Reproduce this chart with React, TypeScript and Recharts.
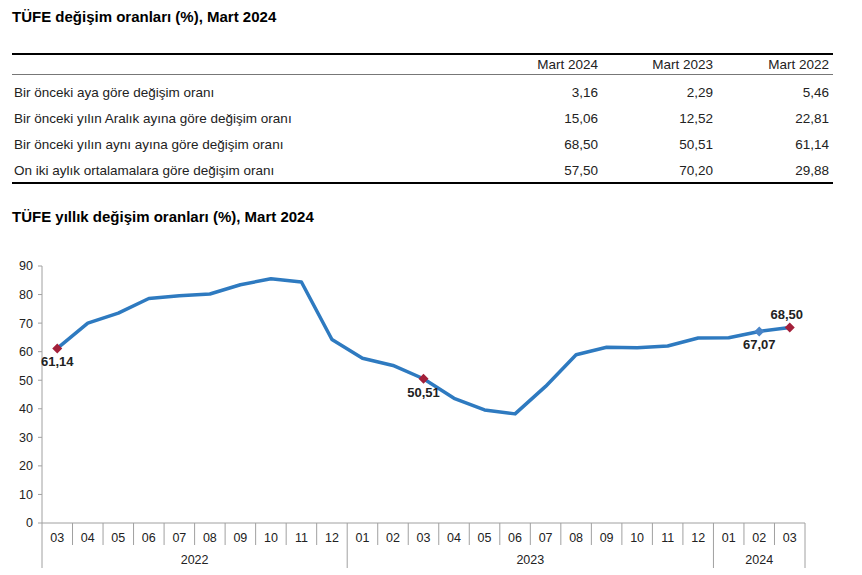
import React from "react"
import { LineChart, Line, XAxis, YAxis } from "recharts"

// table above the chart
const tableColumns = ["Mart 2024", "Mart 2023", "Mart 2022"]
const tableRows = [
  "Bir önceki aya göre değişim oranı",
  "Bir önceki yılın Aralık ayına göre değişim oranı",
  "Bir önceki yılın aynı ayına göre değişim oranı",
  "On iki aylık ortalamalara göre değişim oranı",
]
const tableValues = [
  ["3,16", "2,29", "5,46"],
  ["15,06", "12,52", "22,81"],
  ["68,50", "50,51", "61,14"],
  ["57,50", "70,20", "29,88"],
]

// chart data
const months = [
  "03", "04", "05", "06", "07", "08", "09", "10", "11", "12",
  "01", "02", "03", "04", "05", "06", "07", "08", "09", "10", "11", "12",
  "01", "02", "03",
]
const years = [
  "2022", "2022", "2022", "2022", "2022", "2022", "2022", "2022", "2022", "2022",
  "2023", "2023", "2023", "2023", "2023", "2023", "2023", "2023", "2023", "2023", "2023", "2023",
  "2024", "2024", "2024",
]
const annualChange = [
  61.14, 69.97, 73.5, 78.62, 79.6, 80.21, 83.45, 85.51, 84.39, 64.27,
  57.68, 55.18, 50.51, 43.68, 39.59, 38.21, 47.83, 58.94, 61.53, 61.36, 61.98, 64.77,
  64.86, 67.07, 68.5,
]
const yTicks = [0, 10, 20, 30, 40, 50, 60, 70, 80, 90]

const RED = "#a3203a"
const BLUE_MARK = "#4a85c8"
const LINE = "#2e7ac0"
const GRID = "#a0a0a0"
const TEXT = "#222"
const FONT = "'Liberation Sans', Arial, sans-serif"

// which points get a diamond + value label
const markers: Record<number, { color: string; pos: "above" | "below" }> = {
  0: { color: RED, pos: "below" },
  12: { color: RED, pos: "below" },
  23: { color: BLUE_MARK, pos: "below" },
  24: { color: RED, pos: "above" },
}

const W = 862
const H = 575
const M = { top: 266, right: 57, bottom: 0, left: 0 }
const Y_W = 42
const X_H = 52
const CAT_W = (W - M.left - M.right - Y_W) / months.length

const data = months.map((m, i) => ({ key: `${years[i]}-${m}`, value: annualChange[i] }))

const fmt = (v: number) => v.toFixed(2).replace(".", ",")

const XTick = ({ x, y, payload }: any) => {
  const i = payload.index
  const half = CAT_W / 2
  const left = x - half
  const yearStart = i === 0 || years[i] !== years[i - 1]
  const last = i === months.length - 1
  const first = years.indexOf(years[i])
  const count = years.filter((yr) => yr === years[i]).length
  const mid = first + Math.floor(count / 2)
  const yearX = count % 2 === 0 ? left : x
  return (
    <g>
      <line x1={left} y1={y} x2={left} y2={y + (yearStart ? 45 : 22)} stroke={GRID} />
      {last && <line x1={x + half} y1={y} x2={x + half} y2={y + 45} stroke={GRID} />}
      <text x={x} y={y + 19} textAnchor="middle" fontSize={12.5} fill={TEXT} fontFamily={FONT}>
        {months[i]}
      </text>
      {i === mid && (
        <text x={yearX} y={y + 41} textAnchor="middle" fontSize={12.5} fill={TEXT} fontFamily={FONT}>
          {years[i]}
        </text>
      )}
    </g>
  )
}

const Marker = (p: any) => {
  const m = markers[p.index]
  if (!m) return <g key={p.index} />
  const { cx, cy } = p
  const r = 5
  return (
    <g key={p.index}>
      <path d={`M${cx},${cy - r}L${cx + r},${cy}L${cx},${cy + r}L${cx - r},${cy}Z`} fill={m.color} />
      <text
        x={cx - (m.pos === "above" ? 3 : 0)}
        y={m.pos === "above" ? cy - 8 : cy + 18}
        textAnchor="middle"
        fontSize={13}
        fontWeight="bold"
        fill={TEXT}
        fontFamily={FONT}
      >
        {fmt(p.value)}
      </text>
    </g>
  )
}

const colRight = [598, 713, 829]

export default function App() {
  return (
    <div style={{ position: "absolute", left: 0, top: 0, width: W, height: H, background: "#fff", fontFamily: FONT, color: TEXT }}>
      <div style={{ position: "absolute", left: 12, top: 8, fontSize: 15, fontWeight: "bold", color: "#000" }}>
        TÜFE değişim oranları (%), Mart 2024
      </div>
      <div style={{ position: "absolute", left: 12, top: 53, width: 821, height: 2, background: "#000" }} />
      {tableColumns.map((c, j) => (
        <div key={c} style={{ position: "absolute", right: W - colRight[j], top: 57, fontSize: 13.5, whiteSpace: "nowrap" }}>
          {c}
        </div>
      ))}
      <div style={{ position: "absolute", left: 12, top: 74, width: 821, height: 1, background: "#777" }} />
      {tableRows.map((r, i) => (
        <React.Fragment key={r}>
          <div style={{ position: "absolute", left: 14, top: 85 + i * 26, fontSize: 13.5, whiteSpace: "nowrap" }}>{r}</div>
          {tableValues[i].map((v, j) => (
            <div key={j} style={{ position: "absolute", right: W - colRight[j], top: 85 + i * 26, fontSize: 13.5 }}>
              {v}
            </div>
          ))}
        </React.Fragment>
      ))}
      <div style={{ position: "absolute", left: 12, top: 182, width: 821, height: 2, background: "#000" }} />
      <div style={{ position: "absolute", left: 12, top: 208, fontSize: 15, fontWeight: "bold", color: "#000" }}>
        TÜFE yıllık değişim oranları (%), Mart 2024
      </div>
      <div style={{ position: "absolute", left: 0, top: 0 }}>
        <LineChart width={W} height={H} data={data} margin={M}>
          <XAxis
            dataKey="key"
            scale="band"
            interval={0}
            height={X_H}
            tickSize={0}
            tickMargin={0}
            tickLine={false}
            axisLine={{ stroke: GRID }}
            tick={<XTick />}
          />
          <YAxis
            domain={[0, 90]}
            ticks={yTicks}
            width={Y_W}
            tickSize={4}
            tickMargin={5}
            axisLine={{ stroke: GRID }}
            tickLine={{ stroke: GRID }}
            tick={{ fontSize: 12.5, fill: TEXT, fontFamily: FONT }}
          />
          <Line
            type="linear"
            dataKey="value"
            stroke={LINE}
            strokeWidth={3.5}
            strokeLinejoin="round"
            dot={Marker}
            activeDot={false}
            isAnimationActive={false}
          />
        </LineChart>
      </div>
    </div>
  )
}
